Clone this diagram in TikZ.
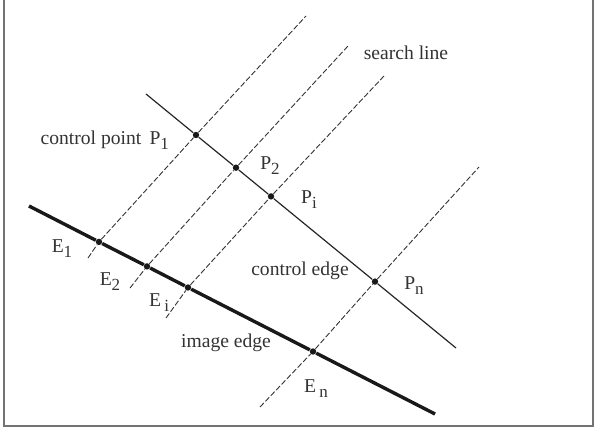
\documentclass[tikz,border=0pt]{standalone}
\usepackage{fontspec}
\setmainfont{Liberation Serif}
\usetikzlibrary{arrows.meta,calc,positioning}
\tikzset {
  >=Stealth,
  every node/.style={font=\fontsize{9.8}{11}\selectfont,text=black!80},
  pt/.style={circle,fill=black!90,inner sep=0pt,minimum size=3.2pt},
  scanline/.style={black!80,line width=0.45pt,dash pattern=on 2.8pt off 1.1pt},
}
\newcommand{\lowsub}[1]{\raisebox{-0.55ex}{\fontsize{8.5}{9}\selectfont #1}}

\begin{document}
\begin{tikzpicture}[x=0.5pt,y=-0.5pt]
      \useasboundingbox (0,0) rectangle (594,432);
      \draw[black!55,line width=1pt] (4,0) -- (4,426) -- (593,426) -- (593,0);
      % control points on the search line, edge points on the image edge
      \node[pt] (P1) at (196,135) {};
      \node[pt] (P2) at (236,167.7) {};
      \node[pt] (Pi) at (271,196.4) {};
      \node[pt] (Pn) at (375,281.6) {};
      \node[pt] (E1) at (99,241.9) {};
      \node[pt] (E2) at (147,266.4) {};
      \node[pt] (Ei) at (188,287.5) {};
      \node[pt] (En) at (313,351.5) {};
      \coordinate (s0) at (146,94);
      \coordinate (s1) at (456,348);
      \coordinate (m0) at (29,206);
      \coordinate (m1) at (435,414);
      \draw[black!85,line width=0.6pt] (s0) -- (P1) -- (P2) -- (Pi) -- (Pn) -- (s1);
      \draw[black!90,line width=1.7pt] (m0) -- (E1) -- (E2) -- (Ei) -- (En) -- (m1);
      \foreach \k/\lo/\hi in {1/{88,258}/{306,16},2/{130,288}/{348,46},i/{166,318}/{384,76},n/{260,407}/{479,167}} {
        \coordinate (lo\k) at (\lo);
        \coordinate (hi\k) at (\hi);
        \draw[scanline] (lo\k) -- (E\k) -- (P\k) -- (hi\k);
      }
      \node (search) at (406,53) {search line};
      \node[anchor=east] (cpt) at (176,140) {control point\, P\lowsub{1}};
      \node (lP2) at (270,166) {P\lowsub{2}};
      \node (lPi) at (309,200) {P\lowsub{i}};
      \node (lPn) at (414,286) {P\lowsub{n}};
      \node (cedge) at (300,271) {control edge};
      \node (lE1) at (62,249) {E\lowsub{1}};
      \node (lE2) at (110,282) {E\lowsub{2}};
      \node (lEi) at (159,303) {E\,\lowsub{i}};
      \node (iedge) at (226,343) {image edge};
      \node (lEn) at (316,389) {E\,\lowsub{n}};
    \end{tikzpicture}
\end{document}
